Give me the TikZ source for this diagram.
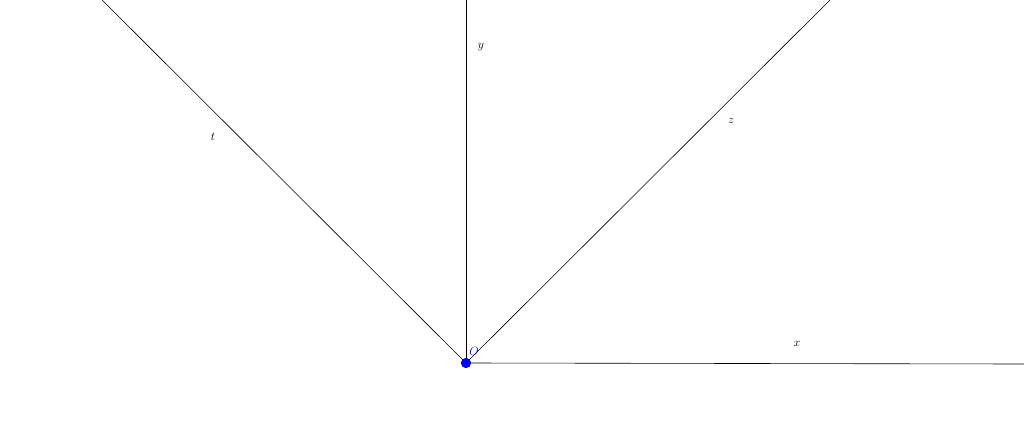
\documentclass[tikz,border=0pt]{standalone}
\usepackage{mathtools}
\tikzset{
    axis/.style={draw=black, line width=0.6pt},
    lbl/.style={inner sep=0, font=\large},
    pt/.style={circle, fill=blue, minimum size=10pt, inner sep=0}
}

\begin{document}
\begin{tikzpicture}[x=1pt,y=1pt]
    \useasboundingbox (-466,-66) rectangle (558,363);
    \node[pt] (O) at (0,0) {};
    \coordinate (X) at (558,-1);
    \coordinate (Y) at (0,363);
    \coordinate (Z) at (364,363);
    \coordinate (T) at (-364,363);
    \draw[axis] (O.center) -- (X);
    \draw[axis] (O.center) -- (Y);
    \draw[axis] (O.center) -- (Z);
    \draw[axis] (O.center) -- (T);
    \node[pt] at (O) {};
    \node[lbl, text=blue] (Olbl) at (8,12) {$O$};
    \node[lbl] (xl) at (331,19) {$x$};
    \node[lbl] (yl) at (15,316) {$y$};
    \node[lbl] (zl) at (265,242) {$z$};
    \node[lbl] (tl) at (-253,226) {$t$};
\end{tikzpicture}
\end{document}
